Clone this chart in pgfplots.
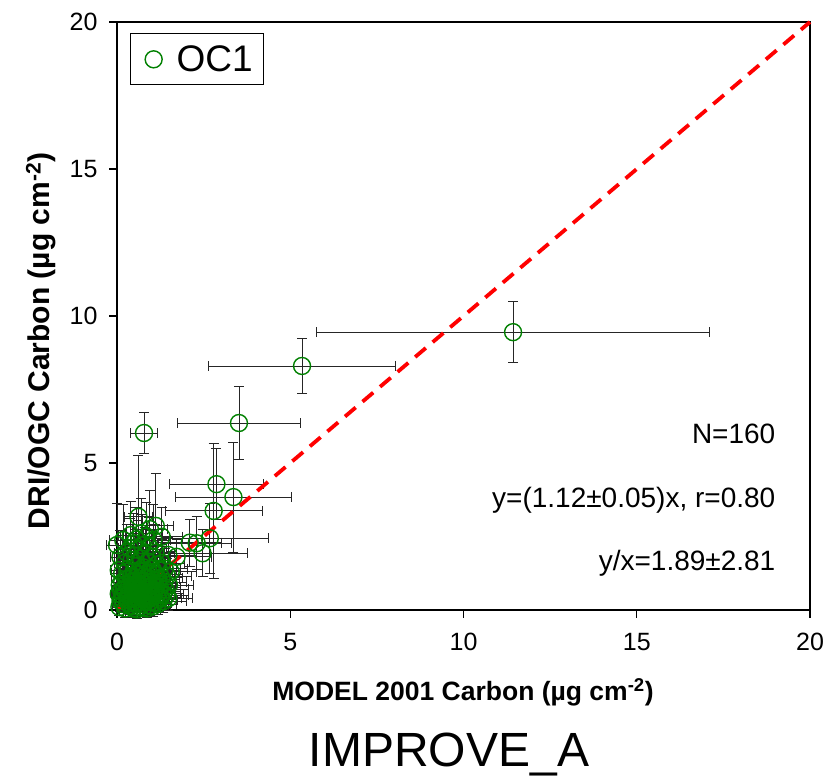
\documentclass[border=0pt]{standalone}
\usepackage{pgfplots}
\pgfplotsset{compat=1.18}
\usepackage{pgfplotstable}
\usepackage{fontspec}
\setmainfont{Liberation Sans}
\definecolor{mkgreen}{RGB}{0,128,0}

\pgfplotstableread{
x y ex ey
11.43 9.45 5.68 1.03
5.34 8.30 2.70 0.93
3.52 6.36 1.78 1.25
0.78 6.02 0.40 0.70
2.87 4.28 1.35 1.20
3.36 3.84 1.68 1.87
2.79 3.37 1.40 2.30
0.62 3.17 0.40 2.07
1.12 2.86 0.50 1.77
0.00 2.21 0.30 1.40
0.18 2.38 0.40 1.20
2.10 2.29 0.90 0.80
2.30 2.27 1.00 0.90
2.68 2.44 1.70 1.20
2.47 1.93 1.30 0.80
1.72 1.81 1.00 0.60
1.48 1.87 0.80 0.60
1.29 2.49 0.60 1.00
1.05 2.38 0.50 1.20
0.47 2.27 0.30 1.00
0.05 0.55 0.20 0.40
0.08 0.85 0.25 0.50
0.10 0.30 0.20 0.35
0.12 0.65 0.25 0.45
0.15 0.95 0.30 0.55
0.18 0.20 0.20 0.30
0.20 0.45 0.25 0.40
0.22 0.75 0.25 0.50
0.25 0.60 0.30 0.45
0.28 1.05 0.30 0.60
0.30 0.35 0.25 0.35
0.32 0.50 0.30 0.40
0.35 0.80 0.30 0.50
0.38 0.15 0.25 0.30
0.40 0.62 0.30 0.45
0.42 0.95 0.35 0.55
0.44 0.40 0.30 0.40
0.46 0.70 0.35 0.50
0.48 0.05 0.30 0.30
0.50 0.55 0.35 0.45
0.52 0.85 0.35 0.50
0.54 0.25 0.35 0.35
0.55 1.10 0.40 0.60
0.56 0.65 0.35 0.45
0.58 0.45 0.35 0.40
0.60 0.90 0.40 0.55
0.62 0.30 0.35 0.35
0.63 0.75 0.40 0.50
0.65 0.10 0.35 0.30
0.66 0.58 0.40 0.45
0.68 1.00 0.40 0.55
0.70 0.40 0.40 0.40
0.72 0.82 0.40 0.50
0.74 0.20 0.40 0.35
0.75 0.65 0.40 0.45
0.77 1.15 0.45 0.60
0.78 0.50 0.40 0.40
0.80 0.88 0.45 0.55
0.82 0.30 0.40 0.35
0.84 0.70 0.45 0.50
0.86 0.05 0.40 0.30
0.88 0.55 0.45 0.45
0.90 0.95 0.45 0.55
0.92 0.38 0.45 0.40
0.94 0.78 0.45 0.50
0.96 0.15 0.45 0.35
0.98 0.62 0.50 0.45
1.00 1.05 0.50 0.60
1.02 0.45 0.50 0.40
1.05 0.85 0.50 0.50
1.08 0.25 0.50 0.35
1.10 0.68 0.55 0.45
1.12 1.20 0.55 0.65
1.15 0.50 0.55 0.40
1.18 0.90 0.55 0.55
1.20 0.35 0.55 0.40
1.24 0.75 0.60 0.50
1.28 1.10 0.60 0.60
1.32 0.55 0.60 0.45
1.36 0.95 0.65 0.55
1.40 0.70 0.65 0.50
1.45 1.15 0.70 0.60
1.50 0.85 0.70 0.55
0.05 1.35 0.25 0.70
0.10 1.80 0.30 0.90
0.15 1.25 0.30 0.65
0.22 1.60 0.30 0.80
0.28 1.95 0.35 0.95
0.33 1.40 0.35 0.70
0.38 2.10 0.35 1.00
0.42 1.70 0.35 0.85
0.48 1.30 0.40 0.70
0.52 1.85 0.40 0.90
0.57 1.50 0.40 0.75
0.61 2.05 0.45 1.00
0.64 1.35 0.40 0.70
0.69 1.75 0.45 0.85
0.73 2.20 0.45 1.05
0.76 1.45 0.45 0.75
0.81 1.90 0.45 0.90
0.85 1.25 0.45 0.65
0.89 1.65 0.50 0.80
0.93 2.15 0.50 1.00
0.97 1.40 0.50 0.70
1.01 1.80 0.50 0.90
1.06 1.30 0.55 0.70
1.11 1.95 0.55 0.95
1.16 1.55 0.55 0.80
1.22 1.35 0.60 0.70
1.30 1.60 0.65 0.80
1.38 1.40 0.65 0.70
1.55 1.30 0.75 0.70
0.55 2.40 0.40 1.10
0.70 2.60 0.45 1.20
0.85 2.50 0.45 1.15
0.95 2.75 0.50 1.30
0.40 2.55 0.35 1.15
0.07 0.10 0.20 0.30
0.13 0.40 0.25 0.35
0.19 0.70 0.25 0.45
0.24 0.05 0.25 0.30
0.27 0.88 0.30 0.50
0.34 0.22 0.30 0.35
0.37 0.58 0.30 0.45
0.41 1.15 0.35 0.60
0.45 0.12 0.30 0.30
0.49 0.78 0.35 0.50
0.53 0.42 0.35 0.40
0.57 0.02 0.35 0.30
0.59 1.22 0.40 0.65
0.64 0.52 0.40 0.45
0.67 0.28 0.40 0.35
0.71 0.95 0.40 0.55
0.73 0.60 0.40 0.45
0.76 0.08 0.40 0.30
0.79 0.35 0.40 0.40
0.83 1.08 0.45 0.60
0.87 0.45 0.45 0.40
0.91 0.68 0.45 0.50
0.95 0.28 0.45 0.35
0.99 0.92 0.50 0.55
1.03 0.12 0.50 0.35
1.07 0.58 0.50 0.45
1.13 0.80 0.55 0.50
1.17 0.20 0.55 0.35
1.22 0.62 0.60 0.45
1.26 0.42 0.60 0.40
1.34 0.30 0.65 0.40
1.42 0.50 0.65 0.45
1.48 0.40 0.70 0.40
0.30 1.30 0.30 0.70
0.46 1.00 0.35 0.55
0.60 0.70 0.40 0.50
0.74 1.30 0.45 0.70
0.88 1.10 0.45 0.60
1.02 1.40 0.50 0.70
1.20 1.05 0.60 0.60
0.16 0.50 0.25 0.40
0.43 0.28 0.30 0.35
}\oc

\begin{document}
\begin{tikzpicture}
\useasboundingbox (0pt,0pt) rectangle (834pt,783pt);
\begin{axis}[
  at={(117pt,173pt)}, anchor=south west,
  scale only axis, width=693pt, height=588pt,
  xmin=0, xmax=20, ymin=0, ymax=20,
  xtick={0,5,10,15,20}, ytick={0,5,10,15,20},
  tick pos=left, tick align=outside,
  major tick length=8pt,
  axis line style={line width=1.5pt},
  tick style={line width=1.3pt, black},
  /pgf/number format/assume math mode=true,
  ticklabel style={font=\fontsize{25}{28}\selectfont},
  xticklabel style={yshift=-12pt},
  yticklabel style={xshift=-8pt},
  clip=false,
  legend style={at={(axis description cs:0.019,0.981)}, anchor=north west,
    draw=black, line width=1pt, font=\fontsize{37}{40}\selectfont,
    inner xsep=9pt, inner ysep=10pt},
  legend image code/.code={\path[draw=none, fill=none] (0pt,0pt) -- (35pt,0pt); \draw[#1] plot coordinates {(14pt,0pt)};},
]
\addplot[only marks, mark=o, mark size=8.5pt, mkgreen, mark options={line width=1.4pt},
  error bars/.cd, x dir=both, y dir=both, x explicit, y explicit,
  error bar style={black!85, line width=0.9pt},
  error mark options={rotate=90, mark size=5pt, black!85, line width=0.9pt}]
  table[x=x, y=y, x error=ex, y error=ey] {\oc};
\addlegendentry{OC1}
\addplot[red, line width=3.8pt, dash pattern=on 14pt off 9pt, forget plot] coordinates {(0,0) (20,20)};
\node[anchor=base east, font=\fontsize{28}{30}\selectfont] at (axis cs:19.1,5.68) {N=160};
\node[anchor=base east, font=\fontsize{28}{30}\selectfont] at (axis cs:19.1,3.50) {y=(1.12±0.05)x, r=0.80};
\node[anchor=base east, font=\fontsize{28}{30}\selectfont] at (axis cs:19.1,1.36) {y/x=1.89±2.81};
\end{axis}
\node[font=\bfseries\fontsize{26.5}{29}\selectfont] at (463pt,91pt) {MODEL 2001 Carbon (µg cm\textsuperscript{-2})};
\node[font=\bfseries\fontsize{30}{33}\selectfont, rotate=90] at (41pt,442pt) {DRI/OGC Carbon (µg cm\textsuperscript{-2})};
\node[font=\fontsize{48}{52}\selectfont] at (449pt,28pt) {IMPROVE\_A};
\end{tikzpicture}
\end{document}
